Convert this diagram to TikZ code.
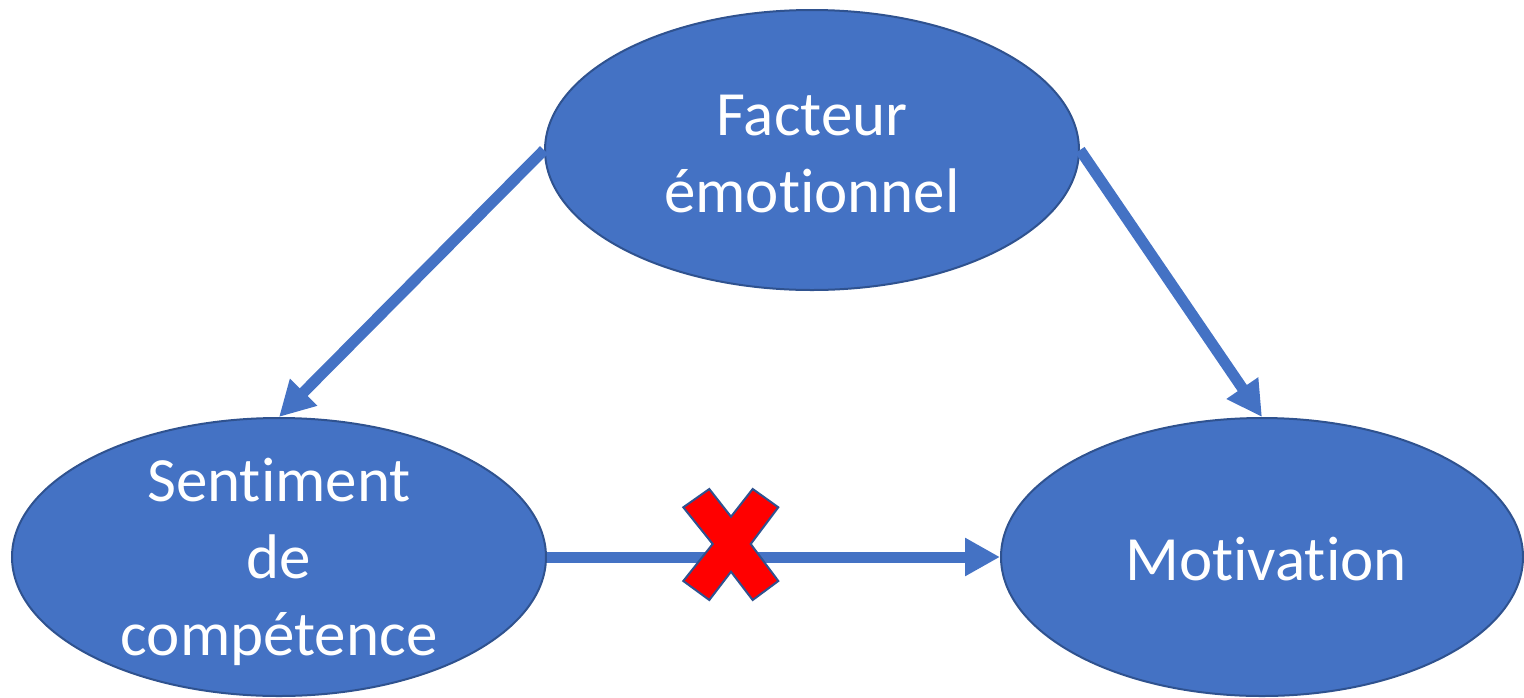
\documentclass[tikz,border=0pt]{standalone}
\usepackage{fontspec}
\setmainfont{Carlito}[Ligatures={NoCommon}]
\usetikzlibrary{shapes.geometric,arrows.meta}
\definecolor{nodeblue}{HTML}{4472C4}
\definecolor{edgeblue}{HTML}{2F528F}
\begin{document}
\begin{tikzpicture}[x=1pt,y=-1pt,
  ell/.style={ellipse, draw=edgeblue, line width=2pt, fill=nodeblue, inner sep=0pt},
  lbl/.style={text=white, align=center, font=\fontsize{63}{77}\selectfont, inner sep=0pt},
  arr/.style={draw=nodeblue, line width=11pt, -{Triangle[length=35pt,width=36pt]}},
  cross/.style={fill=red, draw=edgeblue, line width=2pt, line join=miter}]
\useasboundingbox (0,0) rectangle (1524,697);
% ellipses
\node[ell, minimum width=534pt, minimum height=280pt] (fe) at (812,150) {};
\node[ell, minimum width=534pt, minimum height=278pt] (sc) at (279,557) {};
\node[ell, minimum width=522pt, minimum height=278pt] (mo) at (1262,557) {};
% labels
\node[lbl] (fet) at (812,154) {Facteur\\émotionnel};
\node[lbl] (sct) at (279,562) {Sentiment\\de\\compétence};
\node[lbl] (mot) at (1266,559) {Motivation};
% connectors
\draw[arr] (fe.west) -- (sc.north);
\draw[arr] (fe.east) -- (mo.north);
\draw[arr] (sc.east) -- (mo.west);
% red cross
\draw[cross] (683.3,507.3) -- (709.3,489) -- (731,516.7) -- (752.7,489) -- (778.3,507.3)
  -- (750.7,544) -- (778.3,581) -- (752.7,600) -- (731,571.7) -- (709.3,600)
  -- (683.3,581) -- (712.7,544) -- cycle;
\end{tikzpicture}
\end{document}
